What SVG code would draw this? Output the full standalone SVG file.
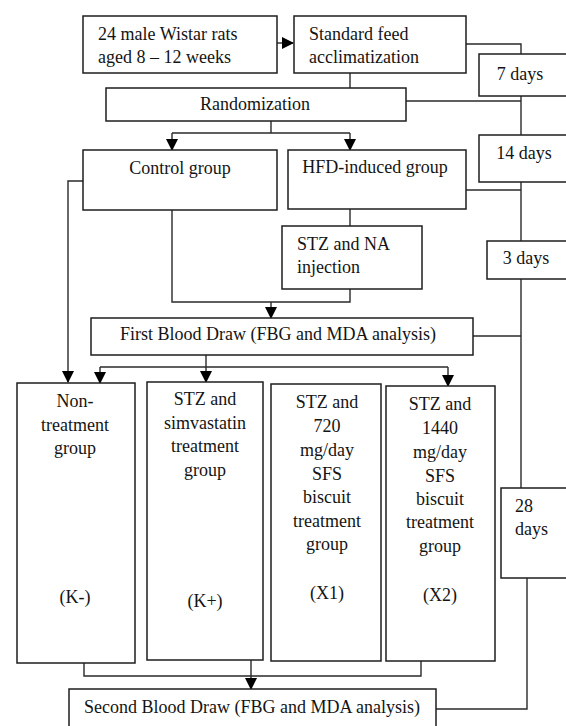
<svg xmlns="http://www.w3.org/2000/svg" width="566" height="726" viewBox="0 0 566 726">
<style>
.box{fill:#fff;stroke:#1e1e1e;stroke-width:1.5}
.t{font-family:"Liberation Serif","Times New Roman",serif;font-size:18px;fill:#141414}
.c{text-anchor:middle}
.ln{fill:none;stroke:#2a2a2a;stroke-width:1.4}
</style>
<defs>
<marker id="ah" markerUnits="userSpaceOnUse" markerWidth="12" markerHeight="12" viewBox="0 0 12 12" refX="11" refY="6" orient="auto">
<path d="M0,0 L12,6 L0,12 Z" fill="#000"/>
</marker>
</defs>
<rect width="566" height="726" fill="#fff"/>
<g id="connectors">
<path class="ln" d="M277,43 H293" marker-end="url(#ah)"/>
<path class="ln" d="M466,44 H521 V54"/>
<path class="ln" d="M350,73 V88"/>
<path class="ln" d="M406,101 H521"/>
<path class="ln" d="M521,96 V135"/>
<path class="ln" d="M271,121 V133"/>
<path class="ln" d="M172,133 H350"/>
<path class="ln" d="M172,133 V150" marker-end="url(#ah)"/>
<path class="ln" d="M350,133 V150" marker-end="url(#ah)"/>
<path class="ln" d="M466,190 H521"/>
<path class="ln" d="M521,182 V241"/>
<path class="ln" d="M350,209 V226"/>
<path class="ln" d="M83,181 H68 V382" marker-end="url(#ah)"/>
<path class="ln" d="M172,210 V302 H350 V289"/>
<path class="ln" d="M271,302 V318" marker-end="url(#ah)"/>
<path class="ln" d="M473,336 H521"/>
<path class="ln" d="M521,279 V488"/>
<path class="ln" d="M206,355 V382" marker-end="url(#ah)"/>
<path class="ln" d="M100,367 H448"/>
<path class="ln" d="M100,367 V383" marker-end="url(#ah)"/>
<path class="ln" d="M448,367 V386" marker-end="url(#ah)"/>
<path class="ln" d="M84,663 V676 H421 V661"/>
<path class="ln" d="M251,660 V689" marker-end="url(#ah)"/>
<path class="ln" d="M436,709 H527 V578"/>
</g>
<g id="rats">
<rect class="box" x="83" y="16" width="194" height="57"/>
<text class="t" x="98" y="40">24 male Wistar rats</text>
<text class="t" x="98" y="63">aged 8 – 12 weeks</text>
</g>
<g id="feed">
<rect class="box" x="294" y="16" width="172" height="57"/>
<text class="t" x="309" y="40">Standard feed</text>
<text class="t" x="309" y="63">acclimatization</text>
</g>
<g id="d7">
<rect class="box" x="479" y="54" width="95" height="42"/>
<text class="t c" x="520" y="80">7 days</text>
</g>
<g id="randomization">
<rect class="box" x="106" y="88" width="300" height="33"/>
<text class="t c" x="255" y="110">Randomization</text>
</g>
<g id="d14">
<rect class="box" x="479" y="135" width="95" height="47"/>
<text class="t c" x="524" y="159">14 days</text>
</g>
<g id="control">
<rect class="box" x="83" y="150" width="194" height="60"/>
<text class="t c" x="180" y="174">Control group</text>
</g>
<g id="hfd">
<rect class="box" x="288" y="150" width="178" height="59"/>
<text class="t c" x="375" y="173">HFD-induced group</text>
</g>
<g id="stz">
<rect class="box" x="282" y="226" width="140" height="63"/>
<text class="t" x="297" y="250">STZ and NA</text>
<text class="t" x="297" y="273">injection</text>
</g>
<g id="d3">
<rect class="box" x="487" y="241" width="87" height="38"/>
<text class="t c" x="526" y="264">3 days</text>
</g>
<g id="first">
<rect class="box" x="91" y="318" width="382" height="37"/>
<text class="t c" x="278" y="340">First Blood Draw (FBG and MDA analysis)</text>
</g>
<g id="kneg">
<rect class="box" x="17" y="383" width="118" height="280"/>
<text class="t c" x="75" y="407">Non-</text>
<text class="t c" x="75" y="431">treatment</text>
<text class="t c" x="75" y="454">group</text>
<text class="t c" x="75" y="603">(K-)</text>
</g>
<g id="kpos">
<rect class="box" x="147" y="382" width="116" height="278"/>
<text class="t c" x="205" y="405">STZ and</text>
<text class="t c" x="205" y="429">simvastatin</text>
<text class="t c" x="205" y="452">treatment</text>
<text class="t c" x="205" y="476">group</text>
<text class="t c" x="205" y="607">(K+)</text>
</g>
<g id="x1">
<rect class="box" x="271" y="384" width="110" height="277"/>
<text class="t c" x="327" y="408">STZ and</text>
<text class="t c" x="327" y="432">720</text>
<text class="t c" x="327" y="456">mg/day</text>
<text class="t c" x="327" y="480">SFS</text>
<text class="t c" x="327" y="503">biscuit</text>
<text class="t c" x="327" y="527">treatment</text>
<text class="t c" x="327" y="550">group</text>
<text class="t c" x="327" y="599">(X1)</text>
</g>
<g id="x2">
<rect class="box" x="386" y="386" width="109" height="275"/>
<text class="t c" x="440" y="410">STZ and</text>
<text class="t c" x="440" y="434">1440</text>
<text class="t c" x="440" y="458">mg/day</text>
<text class="t c" x="440" y="482">SFS</text>
<text class="t c" x="440" y="505">biscuit</text>
<text class="t c" x="440" y="528">treatment</text>
<text class="t c" x="440" y="552">group</text>
<text class="t c" x="440" y="601">(X2)</text>
</g>
<g id="d28">
<rect class="box" x="501" y="488" width="73" height="90"/>
<text class="t" x="515" y="512">28</text>
<text class="t" x="515" y="535">days</text>
</g>
<g id="second">
<rect class="box" x="69" y="689" width="367" height="45"/>
<text class="t c" x="252" y="713">Second Blood Draw (FBG and MDA analysis)</text>
</g>
</svg>
